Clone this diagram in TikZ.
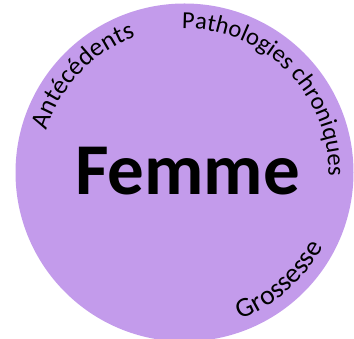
\documentclass[tikz,border=0pt]{standalone}
\usepackage{fontspec}
\setmainfont{Carlito}
\usetikzlibrary{decorations.text}
\definecolor{femmefill}{RGB}{195,155,235}
\newcommand{\arcfont}{\fontsize{26}{26}\selectfont}
\newcommand{\arcfontsmall}{\fontsize{24.5}{24.5}\selectfont}
\newcommand{\arcfontbig}{\fontsize{27.5}{27.5}\selectfont}
\tikzset{
  femme disc/.style={fill=femmefill,draw=none},
  femme title/.style={font=\fontsize{73}{73}\selectfont\bfseries,inner sep=0pt,anchor=base},
  arc label/.style={decorate,decoration={text along path,text={#1},text align=left}}
}
\newcommand{\arclabelat}[4]{%
  \path[arc label={#4}] (#2:#1pt) arc[start angle=#2,end angle=#3,radius=#1pt];%
}

\begin{document}
\begin{tikzpicture}[x=1pt,y=1pt]
  \useasboundingbox (0,0) rectangle (354,339);
  \coordinate (c) at (184.5,166.5);
  \fill[femme disc] (c) circle[radius=169pt];
  \node[femme title] (femme) at (187.5,144) {Femme};
  \begin{scope}[shift={(c)}]
    \arclabelat{144}{163}{95}{|\arcfont|Antécédents}
    \arclabelat{144}{91}{-15}{|\arcfontsmall|Pathologies chroniques}
    \arclabelat{157}{-69}{-10}{|\arcfontbig|Grossesse}
  \end{scope}
\end{tikzpicture}
\end{document}
